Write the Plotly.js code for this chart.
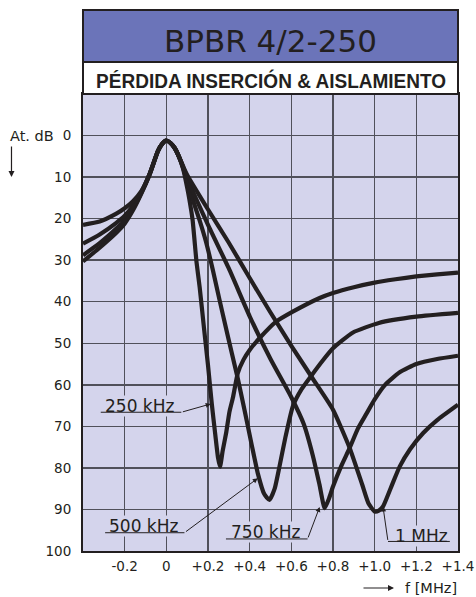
<!DOCTYPE html>
<html>
<head>
<meta charset="utf-8">
<script src="https://cdn.plot.ly/plotly-3.0.1.min.js"></script>
<style>
html,body{margin:0;padding:0;background:#fff;}
#chart{width:476px;height:597px;}
</style>
</head>
<body>
<div id="chart"></div>
<script>
// ---- Data (frequency offset in MHz, attenuation in dB) ----
const x250 = [-0.4,-0.32,-0.24,-0.2,-0.16,-0.12,-0.08,-0.04,-0.02,0,0.02,0.04,0.06,0.08,0.1,0.11,0.126,0.145,0.16,0.18,0.2,0.218,0.235,0.248,0.258,0.27,0.287,0.303,0.32,0.343,0.37,0.4,0.447,0.527,0.607,0.736,0.8,0.9,1.0,1.1,1.2,1.3,1.4];
const y250 = [30.3,27.0,23.4,21.2,18.0,14.0,9.4,3.7,2.0,1.2,1.8,3.0,5.0,7.9,12.5,15.2,20.3,30.5,36.5,46,55.3,64.5,72,77.5,79.7,76,71.6,66.5,63,57.2,54,51.6,48.8,44.8,42.4,39.1,37.9,36.5,35.4,34.6,33.9,33.4,33];

const x500 = [-0.4,-0.32,-0.24,-0.2,-0.16,-0.12,-0.08,-0.04,-0.02,0,0.02,0.04,0.06,0.08,0.1,0.12,0.159,0.19,0.223,0.255,0.287,0.315,0.343,0.375,0.41,0.44,0.47,0.495,0.52,0.543,0.57,0.607,0.65,0.696,0.75,0.8,0.896,1.02,1.2,1.4];
const y500 = [28.8,25.9,22.4,20.4,17.5,13.8,9.3,3.7,2.0,1.2,1.8,3.0,5.0,7.7,11.2,14.4,20.3,25.5,32.3,39.5,46.5,52.5,58.5,66,74.5,81.5,86.3,87.7,85,79.7,73,65.2,61,57.8,54.2,51.2,47.4,45.1,43.6,42.7];

const x750 = [-0.4,-0.32,-0.24,-0.2,-0.16,-0.12,-0.08,-0.04,-0.02,0,0.02,0.04,0.06,0.08,0.1,0.2,0.3,0.4,0.5,0.6,0.66,0.703,0.735,0.76,0.78,0.8,0.84,0.88,0.92,0.96,1.0,1.05,1.12,1.2,1.3,1.4];
const y750 = [26.0,23.8,21.0,19.3,16.9,13.6,9.2,3.7,2.0,1.2,1.8,3.0,5.0,7.5,10.3,21.5,32,43.5,53.8,63,69.5,77,84,89.7,87.5,84.5,79.5,75.2,70.5,67,63.5,60,57,55,53.8,53];

const x1M = [-0.4,-0.32,-0.24,-0.2,-0.16,-0.12,-0.08,-0.04,-0.02,0,0.02,0.04,0.06,0.08,0.1,0.2,0.3,0.4,0.5,0.6,0.7,0.8,0.88,0.94,0.97,1.0,1.02,1.04,1.08,1.12,1.17,1.233,1.3,1.4];
const y1M = [21.5,20.7,18.8,17.5,15.8,13.4,9.2,3.7,2.0,1.2,1.8,3.0,5.0,7.3,9.5,17.8,25.8,34.3,42.6,50.6,58.3,66,75.2,84,88.5,90.5,90.3,89.3,84.5,79.7,75.5,71.6,68.5,64.8];

const xTickVals = [-0.2,0,0.2,0.4,0.6,0.8,1.0,1.2,1.4];
const xTickText = ['-0.2','0','+0.2','+0.4','+0.6','+0.8','+1.0','+1.2','+1.4'];
const yTickVals = [0,10,20,30,40,50,60,70,80,90,100];
const yTickText = ['0','10','20','30','40','50','60','70','80','90','100'];

const curveNames = ['250 kHz','500 kHz','750 kHz','1 MHz'];
const titleText = 'BPBR 4/2-250';
const subtitleText = 'PÉRDIDA INSERCIÓN & AISLAMIENTO';

// ---- Styles ----
const INK = '#231f20';
const LAV = '#d4d4ec';
const BLUE = '#6b74b9';
const FONT = 'DejaVu Sans, Verdana, sans-serif';

const series = [[x250,y250],[x500,y500],[x750,y750],[x1M,y1M]];
const traces = series.map((s,i) => ({
  x: s[0], y: s[1], name: curveNames[i], type: 'scatter', mode: 'lines',
  line: {color: INK, width: 4.2, shape: 'spline', smoothing: 0.5},
  hoverinfo: 'skip', showlegend: false
}));

// label placement (positions only)
const labelPos = [
  {tx:-0.127, ty:65.0, u0:-0.322, u1:0.072, uy:66.6, tipx:0.213, tipy:64.6},
  {tx:-0.108, ty:94.1, u0:-0.301, u1:0.087, uy:95.6, tipx:0.439, tipy:82.5},
  {tx:0.478, ty:95.5, u0:0.279, u1:0.678, uy:97.1, tipx:0.736, tipy:89.4},
  {tx:1.224, ty:96.3, u0:1.368, u1:1.064, uy:97.7, tipx:1.04, tipy:89.3}
];

const annotations = [];
annotations.push({text: titleText, xref:'paper', yref:'paper', x:0.5, y:1.116, showarrow:false,
  xanchor:'center', yanchor:'middle', font:{family:FONT, size:31, color:INK}});
annotations.push({text: '<b>'+subtitleText+'</b>', xref:'paper', yref:'paper', x:0.5, y:1.0300, showarrow:false,
  xanchor:'center', yanchor:'middle', font:{family:'Liberation Sans, Arial, sans-serif', size:20, color:INK}});
annotations.push({text:'At. dB', xref:'paper', yref:'y', x:-0.072, y:0, xanchor:'right', yanchor:'middle',
  showarrow:false, font:{family:FONT, size:14.5, color:INK}});
annotations.push({text:'', xref:'paper', yref:'paper', x:-0.1907, y:0.8184, ax:0, ay:-32,
  showarrow:true, arrowhead:2, arrowsize:1, arrowwidth:1.2, arrowcolor:INK});
annotations.push({text:'', xref:'paper', yref:'paper', x:0.8293, y:-0.081, ax:-32, ay:0,
  showarrow:true, arrowhead:2, arrowsize:1, arrowwidth:1.2, arrowcolor:INK});
annotations.push({text:'f [MHz]', xref:'paper', yref:'paper', x:0.9293, y:-0.081, xanchor:'center', yanchor:'middle',
  showarrow:false, font:{family:FONT, size:14.5, color:INK}});
labelPos.forEach((p,i) => {
  annotations.push({text: curveNames[i], xref:'x', yref:'y', x:p.tx, y:p.ty, showarrow:false,
    xanchor:'center', yanchor:'middle', bgcolor: LAV, borderpad:0,
    font:{family:FONT, size:17, color:INK}});
});
labelPos.forEach((p,i) => {
  annotations.push({text:'', xref:'x', yref:'y', axref:'x', ayref:'y', x:p.u1, y:p.uy, ax:p.u0, ay:p.uy,
    showarrow:true, arrowhead:0, arrowwidth:1, arrowcolor:INK, standoff:0, startstandoff:0});
  annotations.push({text:'', xref:'x', yref:'y', axref:'x', ayref:'y', x:p.tipx, y:p.tipy, ax:p.u1, ay:p.uy,
    showarrow:true, arrowhead:2, arrowsize:1, arrowwidth:1, arrowcolor:INK, standoff:0, startstandoff:0});
});

const layout = {
  width: 476, height: 597,
  margin: {l:83, r:18, t:94, b:46, pad:0},
  paper_bgcolor: '#ffffff', plot_bgcolor: LAV,
  font: {family: FONT, color: INK},
  showlegend: false,
  xaxis: {
    range: [-0.4, 1.4], tickmode:'array', tickvals: xTickVals, ticktext: xTickText,
    showgrid: true, gridcolor: '#50505a', gridwidth: 1.4, zeroline: false,
    showline: true, linecolor: INK, linewidth: 2, mirror: true,
    ticks: '', ticklabelstandoff: 2, tickfont: {family: FONT, size: 13.5, color: INK}, fixedrange: true
  },
  yaxis: {
    range: [100, -10], tickmode:'array', tickvals: yTickVals, ticktext: yTickText,
    showgrid: true, gridcolor: '#50505a', gridwidth: 1.4, zeroline: false,
    showline: true, linecolor: INK, linewidth: 2, mirror: true,
    ticks: '', ticklabelstandoff: 7, tickfont: {family: FONT, size: 13.5, color: INK}, fixedrange: true
  },
  shapes: [
    {type:'rect', xref:'paper', yref:'paper', x0:0, x1:1, y0:1.070, y1:1.1838, fillcolor: BLUE, line:{color:INK, width:2}},
    {type:'rect', xref:'paper', yref:'paper', x0:0, x1:1, y0:1.0, y1:1.070, fillcolor: '#ffffff', line:{color:INK, width:2}}
  ],
  annotations: annotations
};

Plotly.newPlot('chart', traces, layout, {displayModeBar:false, staticPlot:true}).then(() => {
  // condense the bold subtitle to the width of the white band, as in the reference
  document.querySelectorAll('.annotation-text').forEach(t => {
    if (t.textContent === subtitleText) {
      t.setAttribute('textLength', '350');
      t.setAttribute('lengthAdjust', 'spacingAndGlyphs');
    }
  });
});
</script>
</body>
</html>
